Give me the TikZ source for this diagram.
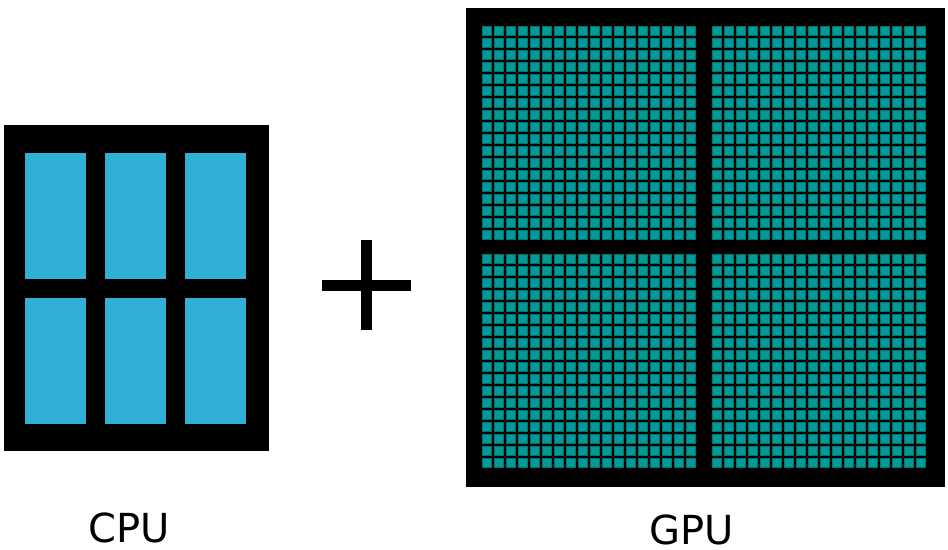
\documentclass[tikz,border=0pt]{standalone}
\usepackage{fontspec}
\setmainfont{DejaVu Sans}
\definecolor{cpublue}{HTML}{31AFD7}
\definecolor{gputeal}{HTML}{009B97}
\definecolor{gpuedge}{HTML}{00716D}
\begin{document}
\begin{tikzpicture}[x=1pt,y=-1pt,
  chipbox/.style={fill=black},
  corecell/.style={fill=cpublue},
  gpucell/.style={fill=gputeal,draw=gpuedge,line width=0.7pt},
  plusbar/.style={fill=black},
  chiplabel/.style={font=\fontsize{40}{48}\selectfont,inner sep=0pt,anchor=base}]
\useasboundingbox (0,0) rectangle (948,549);
% CPU
\fill[chipbox] (4,125) rectangle (269,451);
\foreach \x in {25,105,185}{
  \foreach \y/\h in {153/279,298/424}{
    \fill[corecell] (\x,\y) rectangle ({\x+61},\h);
  }
}
% plus
\fill[plusbar] (321.5,279.5) rectangle (411,290.5);
\fill[plusbar] (361,239.5) rectangle (372,329.5);
% GPU
\fill[chipbox] (466,8) rectangle (945,487);
\foreach \qx in {482,712}{
  \foreach \qy in {26,254}{
    \foreach \i in {0,...,17}{
      \foreach \j in {0,...,17}{
        \path[gpucell] ({\qx+12*\i+0.4},{\qy+12*\j+0.4}) rectangle ({\qx+12*\i+9.6},{\qy+12*\j+9.6});
      }
    }
  }
}
% labels
\node[chiplabel] (cpu) at (129.5,542.7) {CPU};
\node[chiplabel] (gpu) at (692,544) {GPU};
\end{tikzpicture}
\end{document}
